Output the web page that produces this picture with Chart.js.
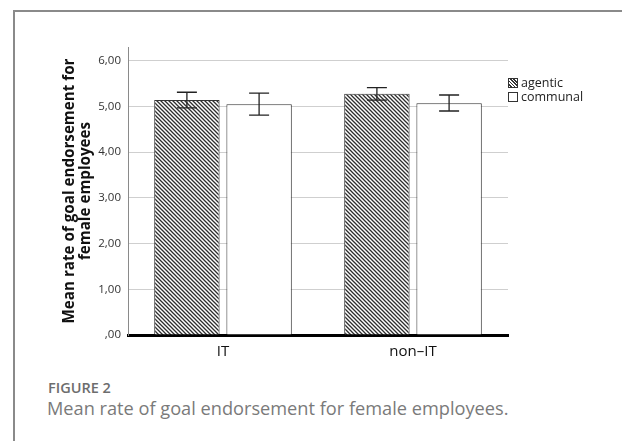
<!DOCTYPE html>
<html>
<head>
<meta charset="utf-8">
<script src="https://cdn.jsdelivr.net/npm/chart.js@4"></script>
<style>
  html, body { margin: 0; padding: 0; background: #fff; }
  body { width: 622px; height: 441px; position: relative; overflow: hidden; font-family: 'Open Sans', sans-serif; }
  .frame { position: absolute; left: 13px; top: 10px; width: 640px; height: 460px; border-left: 2px solid #8a8a8a; border-top: 2px solid #8a8a8a; }
  .chart-wrap { position: absolute; left: 0; top: 0; width: 622px; height: 370px; }
  .legend { position: absolute; left: 508px; top: 76px; font-size: 12.5px; color: #222; line-height: 14px; }
  .legend div { display: flex; align-items: center; }
  .legend span.sw { display: inline-block; width: 10px; height: 10px; border: 1px solid #333; margin-right: 3px; box-sizing: border-box; }
  .sw.hatch { background: repeating-linear-gradient(45deg, #fff 0 1.2px, #333 1.2px 2.4px); }
  .fig { position: absolute; left: 48px; top: 378px; font-size: 14.5px; font-weight: 600; color: #6d6d6d; }
  .cap { position: absolute; left: 47px; top: 396px; font-size: 18.2px; color: #7a7a7a; }
</style>
</head>
<body>
<div class="frame"></div>
<div class="chart-wrap"><canvas id="chart"></canvas></div>
<div class="legend">
  <div><span class="sw hatch"></span>agentic</div>
  <div><span class="sw"></span>communal</div>
</div>
<div class="fig">FIGURE 2</div>
<div class="cap">Mean rate of goal endorsement for female employees.</div>
<script>
// data
const categories = ['IT', 'non–IT'];
const agenticMean = [5.14, 5.28];
const agenticLow = [4.97, 5.14];
const agenticHigh = [5.31, 5.41];
const communalMean = [5.05, 5.07];
const communalLow = [4.81, 4.90];
const communalHigh = [5.29, 5.25];
const yTicks = [0, 1, 2, 3, 4, 5, 6];
const yTickLabels = [',00', '1,00', '2,00', '3,00', '4,00', '5,00', '6,00'];

function hatchPattern() {
    const c = document.createElement('canvas');
    c.width = 4; c.height = 4;
    const g = c.getContext('2d');
    g.fillStyle = '#fff';
    g.fillRect(0, 0, 4, 4);
    g.strokeStyle = '#2e2e2e';
    g.lineWidth = 1.3;
    g.beginPath();
    g.moveTo(-1, -1); g.lineTo(5, 5);
    g.moveTo(-1, 3); g.lineTo(1, 5);
    g.moveTo(3, -1); g.lineTo(5, 1);
    g.stroke();
    return g.createPattern(c, 'repeat');
}

const errorBars = {
    id: 'errorBars',
    afterDatasetsDraw(chart) {
        const ctx = chart.ctx;
        const y = chart.scales.y;
        ctx.save();
        ctx.strokeStyle = '#222';
        ctx.lineWidth = 1.3;
        chart.data.datasets.forEach((ds, i) => {
            const meta = chart.getDatasetMeta(i);
            meta.data.forEach((bar, j) => {
                const yl = y.getPixelForValue(ds.low[j]);
                const yh = y.getPixelForValue(ds.high[j]);
                const x = bar.x;
                ctx.beginPath();
                ctx.moveTo(x, yl); ctx.lineTo(x, yh);
                ctx.moveTo(x - 10, yl); ctx.lineTo(x + 10, yl);
                ctx.moveTo(x - 10, yh); ctx.lineTo(x + 10, yh);
                ctx.stroke();
            });
        });
        ctx.restore();
    }
};

new Chart(document.getElementById('chart'), {
    type: 'bar',
    data: {
        labels: categories,
        datasets: [
            { label: 'agentic', data: agenticMean, low: agenticLow, high: agenticHigh,
              backgroundColor: hatchPattern(), borderColor: '#333', borderWidth: 1 },
            { label: 'communal', data: communalMean, low: communalLow, high: communalHigh,
              backgroundColor: '#fff', borderColor: '#333', borderWidth: 1 }
        ]
    },
    options: {
        responsive: true,
        maintainAspectRatio: false,
        animation: false,
        layout: { padding: { left: 0, right: 114, top: 47, bottom: 0 } },
        categoryPercentage: 0.76,
        barPercentage: 0.906,
        plugins: { legend: { display: false }, tooltip: { enabled: false } },
        scales: {
            x: {
                grid: { display: false },
                border: { color: '#000', width: 3 },
                ticks: { color: '#111', padding: 0, font: { family: 'Open Sans', size: 15 } },
                afterFit(s) { s.height = 35; }
            },
            y: {
                min: 0,
                max: 6.3,
                afterBuildTicks(s) { s.ticks = yTicks.map(v => ({ value: v })); },
                grid: {
                    drawTicks: false,
                    color: ctx => ctx.tick && ctx.tick.value === 0 ? 'rgba(0,0,0,0)' : '#cfcfcf'
                },
                border: { color: '#8a8a8a', width: 1 },
                ticks: {
                    padding: 7,
                    color: '#333',
                    font: { family: 'Open Sans', size: 11.5 },
                    callback: (v, i) => yTickLabels[yTicks.indexOf(v)]
                },
                title: {
                    display: true,
                    text: ['Mean rate of goal endorsement for', 'female employees'],
                    color: '#111',
                    font: { family: 'Open Sans', size: 15.2, weight: 'bold', lineHeight: 1.1 },
                    padding: { top: 61, bottom: 0 }
                },
                afterFit(s) { s.width = 128; }
            }
        }
    },
    plugins: [errorBars]
});
</script>
</body>
</html>
